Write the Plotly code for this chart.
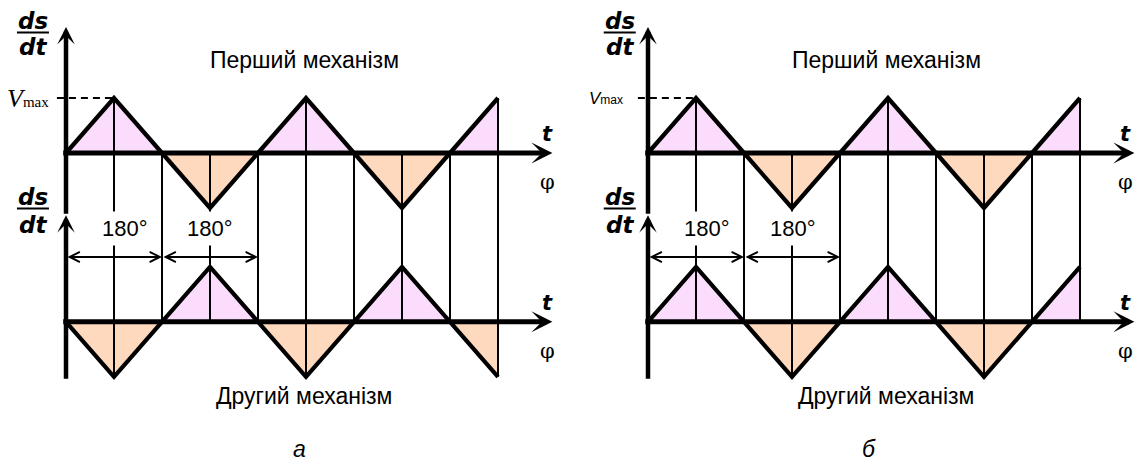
import plotly.graph_objects as go

# ---- data: speed ds/dt of the two mechanisms vs. crank angle (in units of Vmax)
phase_deg = [0, 90, 180, 270, 360, 450, 540, 630, 720, 810]
first_mech_a = [0, 1, 0, -1, 0, 1, 0, -1, 0, 1]
second_mech_a = [0, -1, 0, 1, 0, -1, 0, 1, 0, -1]
first_mech_b = [0, 1, 0, -1, 0, 1, 0, -1, 0, 1]
second_mech_b = [0, 1, 0, -1, 0, 1, 0, -1, 0, 1]
dim_spans = [(0, 180), (180, 360)]
dim_text = "180°"
title_first = "Перший механізм"
title_second = "Другий механізм"
panel_letters = ["а", "б"]

# ---- geometry / style
W, H = 1135, 464
PX_PER_DEG = 48 / 90.0
UNIT_PX = 55.0
BASE_PX = 153.0
ORIGIN_PX = [66.0, 648.0]
OFFSET = 3.07          # second mechanism's baseline sits this far below the first
PINK = "#fcdcfc"
ORANGE = "#fed9bd"
BLACK = "#000000"

y_range = [(BASE_PX - H) / UNIT_PX, BASE_PX / UNIT_PX]

fig = go.Figure()
annotations = []
shapes = []


def x_range(origin_px, left_px, right_px):
    return [(left_px - origin_px) / PX_PER_DEG, (right_px - origin_px) / PX_PER_DEG]


def add_wave(xa, phases, values, base):
    # filled quarter-wave triangles
    for k in range(len(phases) - 1):
        v0, v1 = values[k], values[k + 1]
        peak = v0 if v0 != 0 else v1
        fig.add_trace(go.Scatter(
            x=[phases[k], phases[k + 1], phases[k + 1], phases[k], phases[k]],
            y=[base + v0, base + v1, base, base, base + v0],
            mode="lines", fill="toself",
            fillcolor=PINK if peak > 0 else ORANGE,
            line=dict(width=0), hoverinfo="skip", xaxis=xa, yaxis="y"))


def add_outline(xa, phases, values, base):
    fig.add_trace(go.Scatter(
        x=phases, y=[base + v for v in values], mode="lines",
        line=dict(color=BLACK, width=4.2), hoverinfo="skip", xaxis=xa, yaxis="y"))


def arrow(xr, x, y, ax, ay, width, head, size, side="end"):
    annotations.append(dict(
        xref=xr, yref="y", axref=xr, ayref="y", x=x, y=y, ax=ax, ay=ay,
        text="", showarrow=True, arrowhead=head, startarrowhead=head,
        arrowsize=size, startarrowsize=size, arrowwidth=width,
        arrowcolor=BLACK, arrowside=side, standoff=0, startstandoff=0))


def label(xr, x, y, text, size, family="Liberation Sans", **kw):
    annotations.append(dict(
        xref=xr, yref="y", x=x, y=y, text=text, showarrow=False,
        font=dict(family=family, size=size, color=BLACK),
        xanchor="center", yanchor="middle", **kw))


panels = [
    dict(xa="x", xr="x", top=first_mech_a, bot=second_mech_a,
         dims=[110.6, 270.0], vmax_x=-72,
         vmax_text='<i>V</i><span style="font-size:15px">max</span>',
         vmax_font=("Liberation Serif", 26), dash_from=-17, dsdt_x=-62,
         letter_x=437, axis_tip=912, t_x=902),
    dict(xa="x2", xr="x2", top=first_mech_b, bot=second_mech_b,
         dims=[110.0, 272.0], vmax_x=-79,
         vmax_text='<i>V</i><span style="font-size:12px">max</span>',
         vmax_font=("Liberation Sans", 17), dash_from=-19, dsdt_x=-53,
         letter_x=414, axis_tip=912, t_x=896),
]

for i, p in enumerate(panels):
    xa, xr = p["xa"], p["xr"]
    base2 = -OFFSET
    add_wave(xa, phase_deg, p["top"], 0.0)
    add_wave(xa, phase_deg, p["bot"], base2)

    # vertical reference lines at every quarter period, running from the upper
    # curve (or its baseline) down to the lower curve (or its baseline)
    vx, vy = [], []
    for k in range(1, len(phase_deg)):
        y_hi = max(p["top"][k], 0.0)
        y_lo = min(base2 + p["bot"][k], base2)
        vx += [phase_deg[k], phase_deg[k], None]
        vy += [y_hi, y_lo, None]
    fig.add_trace(go.Scatter(x=vx, y=vy, mode="lines",
                             line=dict(color=BLACK, width=2), hoverinfo="skip",
                             xaxis=xa, yaxis="y"))

    # dashed Vmax level
    fig.add_trace(go.Scatter(x=[p["dash_from"], phase_deg[1]], y=[1, 1], mode="lines",
                             line=dict(color=BLACK, width=2, dash="7px,5px"),
                             hoverinfo="skip", xaxis=xa, yaxis="y"))

    add_outline(xa, phase_deg, p["top"], 0.0)
    add_outline(xa, phase_deg, p["bot"], base2)

    # axes with arrows
    tip = p["axis_tip"]
    arrow(xr, tip, 0.0, -8, 0.0, 5, 3, 0.7)
    arrow(xr, tip, base2, -8, base2, 5, 3, 0.7)
    mid_tip = -1.13
    arrow(xr, 0, mid_tip, 0, -4.13, 4.5, 3, 0.65)
    arrow(xr, 0, 2.29, 0, mid_tip, 4.5, 3, 0.65)

    # 180 degree dimension arrows
    for (a0, a1) in dim_spans:
        arrow(xr, a1, -1.89, a0, -1.89, 2, 5, 1.0, side="end+start")
    for cx in p["dims"]:
        label(xr, cx, -1.38, dim_text, 22, bgcolor="white", borderpad=4)

    # axis titles
    for yb in (0.0, base2):
        label(xr, p["t_x"], yb + 0.34, "<b><i>t</i></b>", 21, family="DejaVu Sans")
        label(xr, p["t_x"], yb - 0.53, "φ", 21, family="DejaVu Serif")

    # ds/dt fractions
    for yb, (ds_y, bar_y, dt_y) in ((0.0, (2.40, 2.19, 1.93)), (base2, (2.27, 2.06, 1.76))):
        label(xr, p["dsdt_x"], yb + ds_y, "<b><i>ds</i></b>", 23, family="DejaVu Sans")
        label(xr, p["dsdt_x"], yb + dt_y, "<b><i>dt</i></b>", 23, family="DejaVu Sans")
        shapes.append(dict(type="line", xref=xr, yref="y", xsizemode="pixel",
                           xanchor=p["dsdt_x"], x0=-16, x1=16,
                           y0=yb + bar_y, y1=yb + bar_y,
                           line=dict(color=BLACK, width=2)))

    # Vmax label
    fam, sz = p["vmax_font"]
    label(xr, p["vmax_x"], 1.0, p["vmax_text"], sz, family=fam)

    # mechanism titles and panel letter
    label(xr, 448, 1.69, title_first, 23)
    label(xr, 446, -4.42, title_second, 23)
    label(xr, p["letter_x"], -5.38, "<i>%s</i>" % panel_letters[i], 23)

common = dict(visible=False, showgrid=False, zeroline=False, fixedrange=True)
fig.update_layout(
    width=W, height=H, margin=dict(l=0, r=0, t=0, b=0),
    paper_bgcolor="white", plot_bgcolor="white", showlegend=False,
    xaxis=dict(domain=[0, 0.5], range=x_range(ORIGIN_PX[0], 0, W / 2), anchor="y", **common),
    xaxis2=dict(domain=[0.5, 1], range=x_range(ORIGIN_PX[1], W / 2, W), anchor="y", **common),
    yaxis=dict(domain=[0, 1], range=y_range, anchor="x", **common),
    annotations=annotations, shapes=shapes,
)

fig.write_html("out.html", config={"displayModeBar": False})
